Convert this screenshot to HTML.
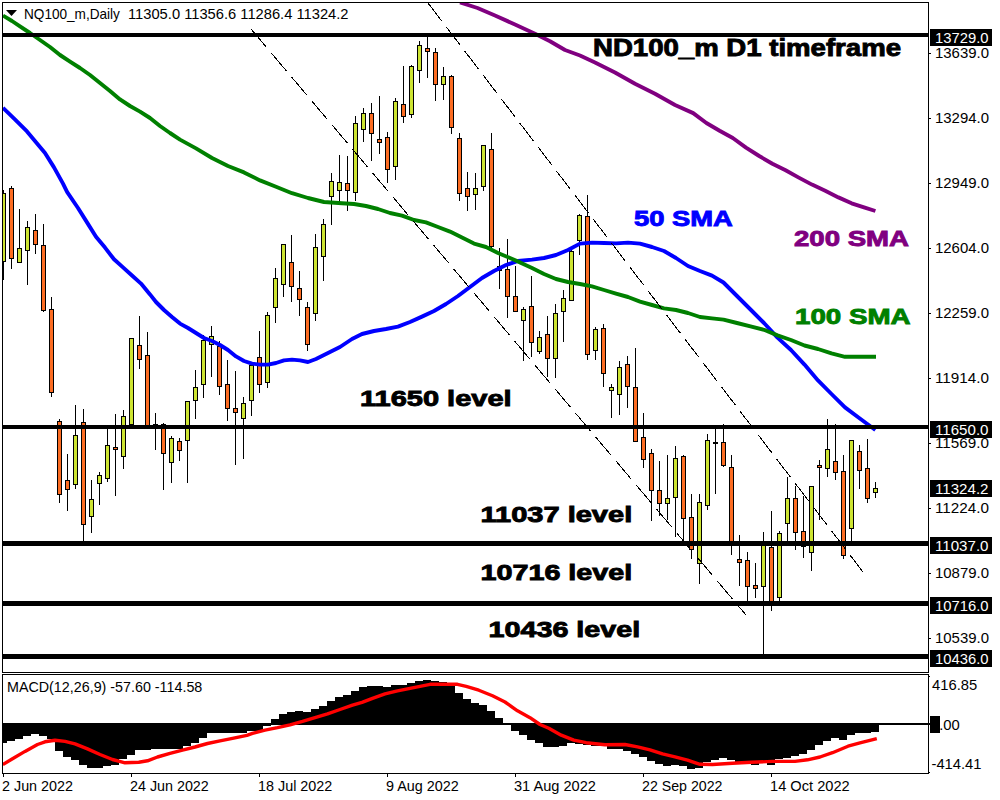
<!DOCTYPE html><html><head><meta charset="utf-8"><style>html,body{margin:0;padding:0;background:#fff;width:1000px;height:800px;overflow:hidden}</style></head><body><svg width="1000" height="800" viewBox="0 0 1000 800" style="display:block;font-family:'Liberation Sans',sans-serif"><rect x="0" y="0" width="1000" height="800" fill="#fff"/><g shape-rendering="crispEdges" fill="#000"><rect x="2" y="2" width="927" height="1"/><rect x="2" y="2" width="1" height="671"/><rect x="928" y="2" width="1" height="671"/><rect x="2" y="672" width="927" height="1"/><rect x="2" y="674" width="927" height="1"/><rect x="2" y="674" width="1" height="100"/><rect x="928" y="674" width="1" height="100"/><rect x="2" y="773" width="927" height="1"/><rect x="928" y="53" width="3" height="1"/><rect x="928" y="118" width="3" height="1"/><rect x="928" y="183" width="3" height="1"/><rect x="928" y="248" width="3" height="1"/><rect x="928" y="313" width="3" height="1"/><rect x="928" y="378" width="3" height="1"/><rect x="928" y="443" width="3" height="1"/><rect x="928" y="508" width="3" height="1"/><rect x="928" y="573" width="3" height="1"/><rect x="928" y="638" width="3" height="1"/><rect x="3" y="773" width="1" height="4"/><rect x="131" y="773" width="1" height="4"/><rect x="259" y="773" width="1" height="4"/><rect x="387" y="773" width="1" height="4"/><rect x="515" y="773" width="1" height="4"/><rect x="643" y="773" width="1" height="4"/><rect x="771" y="773" width="1" height="4"/><rect x="928" y="676" width="2" height="1"/><rect x="928" y="772" width="2" height="1"/></g><defs><clipPath id="cm"><rect x="3" y="3" width="925" height="669"/></clipPath><clipPath id="cd"><rect x="3" y="675" width="925" height="98"/></clipPath></defs><g clip-path="url(#cm)"><g shape-rendering="crispEdges" fill="#000"><rect x="3" y="190" width="1" height="90"/><rect x="1" y="193" width="5" height="69"/><rect x="2" y="194" width="3" height="67" fill="#cde432"/><rect x="11" y="186" width="1" height="83"/><rect x="9" y="188" width="5" height="71"/><rect x="10" y="189" width="3" height="69" fill="#fc6c22"/><rect x="19" y="209" width="1" height="54"/><rect x="17" y="248" width="5" height="15"/><rect x="18" y="249" width="3" height="13" fill="#cde432"/><rect x="27" y="221" width="1" height="64"/><rect x="25" y="227" width="5" height="24"/><rect x="26" y="228" width="3" height="22" fill="#cde432"/><rect x="35" y="214" width="1" height="40"/><rect x="33" y="230" width="5" height="15"/><rect x="34" y="231" width="3" height="13" fill="#fc6c22"/><rect x="43" y="224" width="1" height="88"/><rect x="41" y="245" width="5" height="66"/><rect x="42" y="246" width="3" height="64" fill="#fc6c22"/><rect x="51" y="297" width="1" height="100"/><rect x="49" y="309" width="5" height="84"/><rect x="50" y="310" width="3" height="82" fill="#fc6c22"/><rect x="59" y="419" width="1" height="84"/><rect x="57" y="421" width="5" height="74"/><rect x="58" y="422" width="3" height="72" fill="#fc6c22"/><rect x="67" y="454" width="1" height="57"/><rect x="65" y="480" width="5" height="10"/><rect x="66" y="481" width="3" height="8" fill="#fc6c22"/><rect x="75" y="405" width="1" height="84"/><rect x="73" y="435" width="5" height="50"/><rect x="74" y="436" width="3" height="48" fill="#cde432"/><rect x="83" y="409" width="1" height="132"/><rect x="81" y="422" width="5" height="103"/><rect x="82" y="423" width="3" height="101" fill="#fc6c22"/><rect x="91" y="480" width="1" height="53"/><rect x="89" y="499" width="5" height="18"/><rect x="90" y="500" width="3" height="16" fill="#cde432"/><rect x="99" y="472" width="1" height="33"/><rect x="97" y="475" width="5" height="9"/><rect x="98" y="476" width="3" height="7" fill="#cde432"/><rect x="107" y="429" width="1" height="53"/><rect x="105" y="445" width="5" height="34"/><rect x="106" y="446" width="3" height="32" fill="#cde432"/><rect x="115" y="414" width="1" height="82"/><rect x="113" y="447" width="5" height="3"/><rect x="114" y="448" width="3" height="1" fill="#fc6c22"/><rect x="123" y="410" width="1" height="59"/><rect x="121" y="416" width="5" height="41"/><rect x="122" y="417" width="3" height="39" fill="#cde432"/><rect x="131" y="338" width="1" height="87"/><rect x="129" y="338" width="5" height="87"/><rect x="130" y="339" width="3" height="85" fill="#cde432"/><rect x="139" y="316" width="1" height="53"/><rect x="137" y="345" width="5" height="15"/><rect x="138" y="346" width="3" height="13" fill="#fc6c22"/><rect x="147" y="332" width="1" height="94"/><rect x="145" y="355" width="5" height="71"/><rect x="146" y="356" width="3" height="69" fill="#fc6c22"/><rect x="155" y="413" width="1" height="37"/><rect x="153" y="424" width="5" height="2"/><rect x="163" y="423" width="1" height="67"/><rect x="161" y="424" width="5" height="30"/><rect x="162" y="425" width="3" height="28" fill="#fc6c22"/><rect x="171" y="436" width="1" height="47"/><rect x="169" y="438" width="5" height="25"/><rect x="170" y="439" width="3" height="23" fill="#cde432"/><rect x="179" y="438" width="1" height="23"/><rect x="177" y="441" width="5" height="10"/><rect x="178" y="442" width="3" height="8" fill="#fc6c22"/><rect x="187" y="401" width="1" height="82"/><rect x="185" y="401" width="5" height="40"/><rect x="186" y="402" width="3" height="38" fill="#cde432"/><rect x="195" y="370" width="1" height="49"/><rect x="193" y="387" width="5" height="14"/><rect x="194" y="388" width="3" height="12" fill="#cde432"/><rect x="203" y="335" width="1" height="63"/><rect x="201" y="340" width="5" height="45"/><rect x="202" y="341" width="3" height="43" fill="#cde432"/><rect x="211" y="326" width="1" height="51"/><rect x="209" y="336" width="5" height="9"/><rect x="210" y="337" width="3" height="7" fill="#cde432"/><rect x="219" y="341" width="1" height="54"/><rect x="217" y="346" width="5" height="41"/><rect x="218" y="347" width="3" height="39" fill="#fc6c22"/><rect x="227" y="360" width="1" height="61"/><rect x="225" y="384" width="5" height="25"/><rect x="226" y="385" width="3" height="23" fill="#fc6c22"/><rect x="235" y="371" width="1" height="94"/><rect x="233" y="408" width="5" height="5"/><rect x="234" y="409" width="3" height="3" fill="#fc6c22"/><rect x="243" y="397" width="1" height="62"/><rect x="241" y="403" width="5" height="16"/><rect x="242" y="404" width="3" height="14" fill="#cde432"/><rect x="251" y="362" width="1" height="54"/><rect x="249" y="365" width="5" height="36"/><rect x="250" y="366" width="3" height="34" fill="#cde432"/><rect x="259" y="331" width="1" height="62"/><rect x="257" y="357" width="5" height="28"/><rect x="258" y="358" width="3" height="26" fill="#fc6c22"/><rect x="267" y="312" width="1" height="76"/><rect x="265" y="315" width="5" height="68"/><rect x="266" y="316" width="3" height="66" fill="#cde432"/><rect x="275" y="268" width="1" height="55"/><rect x="273" y="278" width="5" height="30"/><rect x="274" y="279" width="3" height="28" fill="#cde432"/><rect x="283" y="244" width="1" height="53"/><rect x="281" y="244" width="5" height="41"/><rect x="282" y="245" width="3" height="39" fill="#cde432"/><rect x="291" y="235" width="1" height="67"/><rect x="289" y="262" width="5" height="25"/><rect x="290" y="263" width="3" height="23" fill="#fc6c22"/><rect x="299" y="271" width="1" height="45"/><rect x="297" y="288" width="5" height="12"/><rect x="298" y="289" width="3" height="10" fill="#fc6c22"/><rect x="307" y="302" width="1" height="49"/><rect x="305" y="307" width="5" height="38"/><rect x="306" y="308" width="3" height="36" fill="#fc6c22"/><rect x="315" y="234" width="1" height="87"/><rect x="313" y="247" width="5" height="67"/><rect x="314" y="248" width="3" height="65" fill="#cde432"/><rect x="323" y="219" width="1" height="62"/><rect x="321" y="224" width="5" height="33"/><rect x="322" y="225" width="3" height="31" fill="#cde432"/><rect x="331" y="173" width="1" height="52"/><rect x="329" y="181" width="5" height="16"/><rect x="330" y="182" width="3" height="14" fill="#cde432"/><rect x="339" y="155" width="1" height="47"/><rect x="337" y="182" width="5" height="9"/><rect x="338" y="183" width="3" height="7" fill="#cde432"/><rect x="347" y="156" width="1" height="55"/><rect x="345" y="183" width="5" height="8"/><rect x="346" y="184" width="3" height="6" fill="#fc6c22"/><rect x="355" y="116" width="1" height="85"/><rect x="353" y="123" width="5" height="70"/><rect x="354" y="124" width="3" height="68" fill="#cde432"/><rect x="363" y="108" width="1" height="34"/><rect x="361" y="113" width="5" height="17"/><rect x="362" y="114" width="3" height="15" fill="#cde432"/><rect x="371" y="103" width="1" height="58"/><rect x="369" y="113" width="5" height="21"/><rect x="370" y="114" width="3" height="19" fill="#fc6c22"/><rect x="379" y="96" width="1" height="58"/><rect x="377" y="139" width="5" height="4"/><rect x="378" y="140" width="3" height="2" fill="#fc6c22"/><rect x="387" y="132" width="1" height="51"/><rect x="385" y="137" width="5" height="33"/><rect x="386" y="138" width="3" height="31" fill="#fc6c22"/><rect x="395" y="98" width="1" height="82"/><rect x="393" y="101" width="5" height="66"/><rect x="394" y="102" width="3" height="64" fill="#cde432"/><rect x="403" y="66" width="1" height="57"/><rect x="401" y="104" width="5" height="13"/><rect x="402" y="105" width="3" height="11" fill="#fc6c22"/><rect x="411" y="65" width="1" height="53"/><rect x="409" y="66" width="5" height="49"/><rect x="410" y="67" width="3" height="47" fill="#cde432"/><rect x="419" y="41" width="1" height="42"/><rect x="417" y="45" width="5" height="26"/><rect x="418" y="46" width="3" height="24" fill="#cde432"/><rect x="427" y="36" width="1" height="42"/><rect x="425" y="48" width="5" height="4"/><rect x="426" y="49" width="3" height="2" fill="#fc6c22"/><rect x="435" y="48" width="1" height="53"/><rect x="433" y="52" width="5" height="33"/><rect x="434" y="53" width="3" height="31" fill="#fc6c22"/><rect x="443" y="67" width="1" height="33"/><rect x="441" y="76" width="5" height="9"/><rect x="442" y="77" width="3" height="7" fill="#cde432"/><rect x="451" y="75" width="1" height="59"/><rect x="449" y="76" width="5" height="52"/><rect x="450" y="77" width="3" height="50" fill="#fc6c22"/><rect x="459" y="133" width="1" height="68"/><rect x="457" y="138" width="5" height="56"/><rect x="458" y="139" width="3" height="54" fill="#fc6c22"/><rect x="467" y="172" width="1" height="39"/><rect x="465" y="188" width="5" height="9"/><rect x="466" y="189" width="3" height="7" fill="#fc6c22"/><rect x="475" y="173" width="1" height="37"/><rect x="473" y="188" width="5" height="7"/><rect x="474" y="189" width="3" height="5" fill="#cde432"/><rect x="483" y="145" width="1" height="46"/><rect x="481" y="145" width="5" height="42"/><rect x="482" y="146" width="3" height="40" fill="#cde432"/><rect x="491" y="133" width="1" height="116"/><rect x="489" y="149" width="5" height="98"/><rect x="490" y="150" width="3" height="96" fill="#fc6c22"/><rect x="499" y="248" width="1" height="41"/><rect x="497" y="266" width="5" height="5"/><rect x="498" y="267" width="3" height="3" fill="#fc6c22"/><rect x="507" y="239" width="1" height="79"/><rect x="505" y="269" width="5" height="28"/><rect x="506" y="270" width="3" height="26" fill="#fc6c22"/><rect x="515" y="266" width="1" height="46"/><rect x="513" y="296" width="5" height="16"/><rect x="514" y="297" width="3" height="14" fill="#fc6c22"/><rect x="523" y="307" width="1" height="54"/><rect x="521" y="309" width="5" height="12"/><rect x="522" y="310" width="3" height="10" fill="#cde432"/><rect x="531" y="276" width="1" height="81"/><rect x="529" y="306" width="5" height="37"/><rect x="530" y="307" width="3" height="35" fill="#fc6c22"/><rect x="539" y="331" width="1" height="23"/><rect x="537" y="337" width="5" height="15"/><rect x="538" y="338" width="3" height="13" fill="#cde432"/><rect x="547" y="316" width="1" height="61"/><rect x="545" y="334" width="5" height="25"/><rect x="546" y="335" width="3" height="23" fill="#fc6c22"/><rect x="555" y="304" width="1" height="74"/><rect x="553" y="313" width="5" height="46"/><rect x="554" y="314" width="3" height="44" fill="#cde432"/><rect x="563" y="290" width="1" height="52"/><rect x="561" y="298" width="5" height="14"/><rect x="562" y="299" width="3" height="12" fill="#cde432"/><rect x="571" y="247" width="1" height="54"/><rect x="569" y="251" width="5" height="50"/><rect x="570" y="252" width="3" height="48" fill="#cde432"/><rect x="579" y="214" width="1" height="41"/><rect x="577" y="215" width="5" height="26"/><rect x="578" y="216" width="3" height="24" fill="#cde432"/><rect x="587" y="195" width="1" height="165"/><rect x="585" y="216" width="5" height="139"/><rect x="586" y="217" width="3" height="137" fill="#fc6c22"/><rect x="595" y="327" width="1" height="33"/><rect x="593" y="329" width="5" height="22"/><rect x="594" y="330" width="3" height="20" fill="#cde432"/><rect x="603" y="324" width="1" height="63"/><rect x="601" y="328" width="5" height="46"/><rect x="602" y="329" width="3" height="44" fill="#fc6c22"/><rect x="611" y="384" width="1" height="34"/><rect x="609" y="387" width="5" height="4"/><rect x="610" y="388" width="3" height="2" fill="#cde432"/><rect x="619" y="361" width="1" height="54"/><rect x="617" y="367" width="5" height="28"/><rect x="618" y="368" width="3" height="26" fill="#cde432"/><rect x="627" y="356" width="1" height="52"/><rect x="625" y="364" width="5" height="23"/><rect x="626" y="365" width="3" height="21" fill="#fc6c22"/><rect x="635" y="348" width="1" height="94"/><rect x="633" y="387" width="5" height="55"/><rect x="634" y="388" width="3" height="53" fill="#fc6c22"/><rect x="643" y="413" width="1" height="55"/><rect x="641" y="437" width="5" height="23"/><rect x="642" y="438" width="3" height="21" fill="#fc6c22"/><rect x="651" y="449" width="1" height="72"/><rect x="649" y="453" width="5" height="38"/><rect x="650" y="454" width="3" height="36" fill="#fc6c22"/><rect x="659" y="461" width="1" height="55"/><rect x="657" y="490" width="5" height="14"/><rect x="658" y="491" width="3" height="12" fill="#fc6c22"/><rect x="667" y="455" width="1" height="65"/><rect x="665" y="498" width="5" height="6"/><rect x="666" y="499" width="3" height="4" fill="#cde432"/><rect x="675" y="446" width="1" height="91"/><rect x="673" y="458" width="5" height="40"/><rect x="674" y="459" width="3" height="38" fill="#cde432"/><rect x="683" y="455" width="1" height="87"/><rect x="681" y="456" width="5" height="63"/><rect x="682" y="457" width="3" height="61" fill="#fc6c22"/><rect x="691" y="494" width="1" height="65"/><rect x="689" y="517" width="5" height="33"/><rect x="690" y="518" width="3" height="31" fill="#fc6c22"/><rect x="699" y="494" width="1" height="90"/><rect x="697" y="502" width="5" height="62"/><rect x="698" y="503" width="3" height="60" fill="#cde432"/><rect x="707" y="434" width="1" height="76"/><rect x="705" y="440" width="5" height="66"/><rect x="706" y="441" width="3" height="64" fill="#cde432"/><rect x="715" y="427" width="1" height="67"/><rect x="713" y="442" width="5" height="2"/><rect x="723" y="424" width="1" height="43"/><rect x="721" y="442" width="5" height="24"/><rect x="722" y="443" width="3" height="22" fill="#fc6c22"/><rect x="731" y="455" width="1" height="100"/><rect x="729" y="467" width="5" height="76"/><rect x="730" y="468" width="3" height="74" fill="#fc6c22"/><rect x="739" y="535" width="1" height="51"/><rect x="737" y="559" width="5" height="4"/><rect x="738" y="560" width="3" height="2" fill="#fc6c22"/><rect x="747" y="552" width="1" height="51"/><rect x="745" y="560" width="5" height="27"/><rect x="746" y="561" width="3" height="25" fill="#fc6c22"/><rect x="755" y="563" width="1" height="35"/><rect x="753" y="585" width="5" height="4"/><rect x="754" y="586" width="3" height="2" fill="#fc6c22"/><rect x="763" y="532" width="1" height="123"/><rect x="761" y="544" width="5" height="43"/><rect x="762" y="545" width="3" height="41" fill="#cde432"/><rect x="771" y="511" width="1" height="100"/><rect x="769" y="547" width="5" height="55"/><rect x="770" y="548" width="3" height="53" fill="#fc6c22"/><rect x="779" y="531" width="1" height="71"/><rect x="777" y="533" width="5" height="65"/><rect x="778" y="534" width="3" height="63" fill="#cde432"/><rect x="787" y="477" width="1" height="66"/><rect x="785" y="498" width="5" height="26"/><rect x="786" y="499" width="3" height="24" fill="#cde432"/><rect x="795" y="486" width="1" height="64"/><rect x="793" y="498" width="5" height="35"/><rect x="794" y="499" width="3" height="33" fill="#fc6c22"/><rect x="803" y="496" width="1" height="62"/><rect x="801" y="531" width="5" height="16"/><rect x="802" y="532" width="3" height="14" fill="#fc6c22"/><rect x="811" y="486" width="1" height="85"/><rect x="809" y="486" width="5" height="67"/><rect x="810" y="487" width="3" height="65" fill="#cde432"/><rect x="819" y="460" width="1" height="60"/><rect x="817" y="465" width="5" height="3"/><rect x="818" y="466" width="3" height="1" fill="#fc6c22"/><rect x="827" y="419" width="1" height="58"/><rect x="825" y="449" width="5" height="20"/><rect x="826" y="450" width="3" height="18" fill="#cde432"/><rect x="835" y="424" width="1" height="56"/><rect x="833" y="461" width="5" height="12"/><rect x="834" y="462" width="3" height="10" fill="#fc6c22"/><rect x="843" y="455" width="1" height="104"/><rect x="841" y="471" width="5" height="85"/><rect x="842" y="472" width="3" height="83" fill="#fc6c22"/><rect x="851" y="440" width="1" height="103"/><rect x="849" y="440" width="5" height="89"/><rect x="850" y="441" width="3" height="87" fill="#cde432"/><rect x="859" y="445" width="1" height="44"/><rect x="857" y="451" width="5" height="20"/><rect x="858" y="452" width="3" height="18" fill="#fc6c22"/><rect x="867" y="439" width="1" height="64"/><rect x="865" y="468" width="5" height="31"/><rect x="866" y="469" width="3" height="29" fill="#fc6c22"/><rect x="875" y="482" width="1" height="16"/><rect x="873" y="488" width="5" height="5"/><rect x="874" y="489" width="3" height="3" fill="#cde432"/></g><polyline points="3.0,107.8 14.4,118.8 27.0,131.4 36.0,142.2 45.0,153.0 54.0,167.4 63.0,183.6 67.2,192.2 78.0,208.0 87.0,222.4 96.0,236.8 105.0,247.6 114.0,259.3 123.0,267.4 132.0,275.5 141.0,283.6 150.0,294.4 156.0,302.0 164.0,310.0 172.0,317.0 180.0,323.6 188.0,328.0 196.0,333.0 204.0,338.0 212.0,341.0 220.0,345.0 228.0,350.0 236.0,356.4 244.0,361.0 252.0,363.6 260.0,364.6 268.0,364.6 276.0,363.0 284.0,360.4 292.0,359.6 300.0,360.4 308.0,362.0 316.0,359.0 324.0,355.0 332.0,351.0 340.0,347.0 352.0,339.0 362.0,334.0 374.0,331.0 386.0,329.0 398.0,326.6 410.0,322.0 422.0,316.6 434.0,311.0 446.0,304.0 458.0,296.0 470.0,287.0 482.0,278.0 494.0,271.0 506.0,265.0 518.0,261.0 532.0,259.6 544.0,258.0 556.0,255.0 568.0,250.0 580.0,243.6 592.0,242.6 604.0,243.0 616.0,243.4 628.0,242.6 640.0,243.6 652.0,247.0 664.0,251.0 676.0,258.0 688.0,266.0 700.0,271.0 712.0,275.6 723.5,282.5 737.0,296.0 750.5,309.5 764.0,323.0 777.5,337.6 791.0,350.0 804.5,364.6 818.0,380.4 831.5,394.0 845.0,407.4 858.5,417.5 875.4,430.0" fill="none" stroke="#0000ff" stroke-width="3.9" stroke-linejoin="round"/><polyline points="3.0,15.6 12.0,21.0 20.0,26.4 30.0,33.0 40.0,40.0 50.0,47.0 60.0,55.0 70.0,61.6 80.0,68.0 90.0,75.0 100.0,83.0 110.0,91.0 120.0,99.4 130.0,106.0 140.0,111.6 150.0,118.0 160.0,126.0 170.0,133.0 180.0,139.6 196.0,148.4 212.0,158.0 228.0,166.0 244.0,172.4 260.0,180.4 276.0,186.8 292.0,193.2 308.0,198.0 324.0,202.0 342.0,203.3 354.0,204.0 366.0,206.0 378.0,209.0 390.0,213.0 402.0,215.6 414.0,220.0 426.0,222.4 438.0,227.0 450.0,231.6 462.0,237.6 474.0,243.6 486.0,247.0 498.0,253.0 510.0,258.0 520.0,262.4 532.0,268.0 544.0,274.0 556.0,279.0 568.0,282.0 580.0,284.0 592.0,286.4 604.0,290.0 616.0,293.6 628.0,297.0 640.0,301.6 652.0,305.0 664.0,308.4 676.0,310.0 688.0,313.0 700.0,317.0 712.0,318.4 723.5,319.6 737.0,323.0 750.5,326.4 764.0,329.8 777.5,335.4 791.0,340.0 804.5,345.5 818.0,349.0 831.5,353.4 845.0,356.8 876.0,356.8" fill="none" stroke="#008000" stroke-width="3.9" stroke-linejoin="round"/><polyline points="460.0,2.5 477.5,8.0 495.0,15.5 515.0,24.5 535.0,33.8 550.0,41.2 565.0,50.0 580.0,55.5 595.0,62.5 615.0,72.5 635.0,83.8 655.0,93.8 675.0,105.0 693.2,113.1 706.4,123.0 719.6,130.7 732.8,138.0 746.0,147.6 759.2,156.0 772.4,163.7 785.6,170.3 798.8,177.6 812.0,184.6 825.2,190.8 838.4,197.4 851.6,203.3 864.8,207.7 875.4,211.0" fill="none" stroke="#800080" stroke-width="3.9" stroke-linejoin="round"/><line x1="251" y1="29" x2="746" y2="615" stroke="#000" stroke-width="1" shape-rendering="crispEdges" stroke-dasharray="23.56 7.85"/><line x1="428" y1="3" x2="863" y2="572" stroke="#000" stroke-width="1" shape-rendering="crispEdges" stroke-dasharray="22.66 7.55"/><g shape-rendering="crispEdges" fill="#000"><rect x="3" y="33" width="925" height="4"/><rect x="3" y="425" width="925" height="4"/><rect x="3" y="541" width="925" height="5"/><rect x="3" y="601" width="925" height="5"/><rect x="3" y="654" width="925" height="5"/></g></g><g clip-path="url(#cd)"><rect x="3" y="723" width="925" height="2" fill="#000" shape-rendering="crispEdges"/><g shape-rendering="crispEdges" fill="#000"><rect x="3" y="723" width="4" height="20"/><rect x="7" y="723" width="8" height="18"/><rect x="15" y="723" width="8" height="16"/><rect x="23" y="723" width="8" height="13"/><rect x="31" y="723" width="8" height="11"/><rect x="39" y="723" width="8" height="13"/><rect x="47" y="723" width="8" height="16"/><rect x="55" y="723" width="8" height="28"/><rect x="63" y="723" width="8" height="34"/><rect x="71" y="723" width="8" height="37"/><rect x="79" y="723" width="8" height="42"/><rect x="87" y="723" width="8" height="45"/><rect x="95" y="723" width="8" height="45"/><rect x="103" y="723" width="8" height="43"/><rect x="111" y="723" width="8" height="42"/><rect x="119" y="723" width="8" height="36"/><rect x="127" y="723" width="8" height="32"/><rect x="135" y="723" width="8" height="27"/><rect x="143" y="723" width="8" height="27"/><rect x="151" y="723" width="8" height="26"/><rect x="159" y="723" width="8" height="26"/><rect x="167" y="723" width="8" height="26"/><rect x="175" y="723" width="8" height="26"/><rect x="183" y="723" width="8" height="23"/><rect x="191" y="723" width="8" height="20"/><rect x="199" y="723" width="8" height="15"/><rect x="207" y="723" width="8" height="10"/><rect x="215" y="723" width="8" height="10"/><rect x="223" y="723" width="8" height="10"/><rect x="231" y="723" width="8" height="10"/><rect x="239" y="723" width="8" height="10"/><rect x="247" y="723" width="8" height="8"/><rect x="255" y="723" width="8" height="8"/><rect x="263" y="723" width="8" height="3"/><rect x="511" y="723" width="8" height="8"/><rect x="519" y="723" width="8" height="12"/><rect x="527" y="723" width="8" height="17"/><rect x="535" y="723" width="8" height="20"/><rect x="543" y="723" width="8" height="24"/><rect x="551" y="723" width="8" height="24"/><rect x="559" y="723" width="8" height="23"/><rect x="567" y="723" width="8" height="20"/><rect x="575" y="723" width="8" height="21"/><rect x="583" y="723" width="8" height="22"/><rect x="591" y="723" width="8" height="23"/><rect x="599" y="723" width="8" height="23"/><rect x="607" y="723" width="8" height="26"/><rect x="615" y="723" width="8" height="26"/><rect x="623" y="723" width="8" height="28"/><rect x="631" y="723" width="8" height="31"/><rect x="639" y="723" width="8" height="34"/><rect x="647" y="723" width="8" height="38"/><rect x="655" y="723" width="8" height="41"/><rect x="663" y="723" width="8" height="43"/><rect x="671" y="723" width="8" height="42"/><rect x="679" y="723" width="8" height="43"/><rect x="687" y="723" width="8" height="46"/><rect x="695" y="723" width="8" height="45"/><rect x="703" y="723" width="8" height="39"/><rect x="711" y="723" width="8" height="37"/><rect x="719" y="723" width="8" height="35"/><rect x="727" y="723" width="8" height="37"/><rect x="735" y="723" width="8" height="39"/><rect x="743" y="723" width="8" height="40"/><rect x="751" y="723" width="8" height="42"/><rect x="759" y="723" width="8" height="40"/><rect x="767" y="723" width="8" height="42"/><rect x="775" y="723" width="8" height="36"/><rect x="783" y="723" width="8" height="35"/><rect x="791" y="723" width="8" height="33"/><rect x="799" y="723" width="8" height="31"/><rect x="807" y="723" width="8" height="27"/><rect x="815" y="723" width="8" height="22"/><rect x="823" y="723" width="8" height="18"/><rect x="831" y="723" width="8" height="15"/><rect x="839" y="723" width="8" height="17"/><rect x="847" y="723" width="8" height="12"/><rect x="855" y="723" width="8" height="10"/><rect x="863" y="723" width="8" height="10"/><rect x="871" y="723" width="8" height="9"/><rect x="271" y="719" width="8" height="6"/><rect x="279" y="714" width="8" height="11"/><rect x="287" y="712" width="8" height="13"/><rect x="295" y="711" width="8" height="14"/><rect x="303" y="712" width="8" height="13"/><rect x="311" y="709" width="8" height="16"/><rect x="319" y="706" width="8" height="19"/><rect x="327" y="701" width="8" height="24"/><rect x="335" y="697" width="8" height="28"/><rect x="343" y="695" width="8" height="30"/><rect x="351" y="691" width="8" height="34"/><rect x="359" y="687" width="8" height="38"/><rect x="367" y="686" width="8" height="39"/><rect x="375" y="686" width="8" height="39"/><rect x="383" y="687" width="8" height="38"/><rect x="391" y="685" width="8" height="40"/><rect x="399" y="685" width="8" height="40"/><rect x="407" y="683" width="8" height="42"/><rect x="415" y="681" width="8" height="44"/><rect x="423" y="680" width="8" height="45"/><rect x="431" y="681" width="8" height="44"/><rect x="439" y="682" width="8" height="43"/><rect x="447" y="683" width="8" height="42"/><rect x="455" y="693" width="8" height="32"/><rect x="463" y="699" width="8" height="26"/><rect x="471" y="703" width="8" height="22"/><rect x="479" y="705" width="8" height="20"/><rect x="487" y="711" width="8" height="14"/><rect x="495" y="718" width="8" height="7"/></g><polyline points="2.8,764.5 12.5,758.8 25.0,751.4 37.5,744.5 45.0,741.8 55.0,740.2 65.0,741.4 75.0,743.9 87.5,748.9 100.0,754.5 112.5,759.5 125.0,762.8 138.8,762.3 147.5,760.8 157.5,757.0 170.0,753.3 182.5,750.2 195.0,747.0 207.5,743.5 220.0,740.8 232.5,738.3 246.9,735.3 252.5,733.3 265.0,730.2 277.5,727.7 290.0,724.8 302.5,721.4 315.0,717.7 327.5,713.9 340.0,709.5 352.5,705.2 362.0,702.3 372.5,698.3 385.0,693.9 397.5,690.8 410.0,688.3 422.5,685.8 430.0,684.3 441.2,684.3 457.5,684.3 466.2,686.4 478.8,690.2 492.5,695.8 505.0,702.0 517.5,710.8 530.0,717.7 540.0,724.5 548.8,728.3 561.2,735.2 573.8,740.2 586.2,742.7 605.0,744.8 625.0,744.5 637.5,746.8 650.0,749.8 662.5,753.9 675.0,756.8 687.5,760.2 700.0,764.3 712.5,764.5 732.5,763.3 751.2,762.3 772.5,761.4 795.0,761.4 807.5,759.8 820.0,757.0 832.5,752.7 848.0,746.2 860.0,742.9 876.8,738.7" fill="none" stroke="#ff0000" stroke-width="3.4" stroke-linejoin="round"/></g><rect x="928" y="723" width="3" height="2" fill="#000"/><path d="M6 10 L17 10 L11.5 16 Z" fill="#000"/><text x="24" y="19" font-size="14.5" fill="#000" font-weight="normal" text-anchor="start" textLength="95.9" lengthAdjust="spacingAndGlyphs" >NQ100_m,Daily</text><text x="128" y="19" font-size="14.5" fill="#000" font-weight="normal" text-anchor="start" textLength="220.5" lengthAdjust="spacingAndGlyphs" >11305.0 11356.6 11286.4 11324.2</text><text x="7" y="692" font-size="14.5" fill="#000" font-weight="normal" text-anchor="start" textLength="195.3" lengthAdjust="spacingAndGlyphs" >MACD(12,26,9) -57.60 -114.58</text><text x="935" y="58" font-size="14.5" fill="#000" font-weight="normal" text-anchor="start" textLength="54" lengthAdjust="spacingAndGlyphs" >13639.0</text><text x="935" y="123" font-size="14.5" fill="#000" font-weight="normal" text-anchor="start" textLength="54" lengthAdjust="spacingAndGlyphs" >13294.0</text><text x="935" y="188" font-size="14.5" fill="#000" font-weight="normal" text-anchor="start" textLength="54" lengthAdjust="spacingAndGlyphs" >12949.0</text><text x="935" y="253" font-size="14.5" fill="#000" font-weight="normal" text-anchor="start" textLength="54" lengthAdjust="spacingAndGlyphs" >12604.0</text><text x="935" y="318" font-size="14.5" fill="#000" font-weight="normal" text-anchor="start" textLength="54" lengthAdjust="spacingAndGlyphs" >12259.0</text><text x="935" y="383" font-size="14.5" fill="#000" font-weight="normal" text-anchor="start" textLength="54" lengthAdjust="spacingAndGlyphs" >11914.0</text><text x="935" y="448" font-size="14.5" fill="#000" font-weight="normal" text-anchor="start" textLength="54" lengthAdjust="spacingAndGlyphs" >11569.0</text><text x="935" y="513" font-size="14.5" fill="#000" font-weight="normal" text-anchor="start" textLength="54" lengthAdjust="spacingAndGlyphs" >11224.0</text><text x="935" y="578" font-size="14.5" fill="#000" font-weight="normal" text-anchor="start" textLength="54" lengthAdjust="spacingAndGlyphs" >10879.0</text><text x="935" y="643" font-size="14.5" fill="#000" font-weight="normal" text-anchor="start" textLength="54" lengthAdjust="spacingAndGlyphs" >10539.0</text><rect x="930" y="29" width="62" height="17" fill="#000"/><text x="935" y="43" font-size="14.5" fill="#fff" font-weight="normal" text-anchor="start" textLength="53.5" lengthAdjust="spacingAndGlyphs" >13729.0</text><rect x="930" y="421" width="62" height="17" fill="#000"/><text x="935" y="435" font-size="14.5" fill="#fff" font-weight="normal" text-anchor="start" textLength="53.5" lengthAdjust="spacingAndGlyphs" >11650.0</text><rect x="930" y="480" width="62" height="17" fill="#000"/><text x="935" y="494" font-size="14.5" fill="#fff" font-weight="normal" text-anchor="start" textLength="53.5" lengthAdjust="spacingAndGlyphs" >11324.2</text><rect x="930" y="537" width="62" height="17" fill="#000"/><text x="935" y="551" font-size="14.5" fill="#fff" font-weight="normal" text-anchor="start" textLength="53.5" lengthAdjust="spacingAndGlyphs" >11037.0</text><rect x="930" y="597" width="62" height="17" fill="#000"/><text x="935" y="611" font-size="14.5" fill="#fff" font-weight="normal" text-anchor="start" textLength="53.5" lengthAdjust="spacingAndGlyphs" >10716.0</text><rect x="930" y="650" width="62" height="17" fill="#000"/><text x="935" y="664" font-size="14.5" fill="#fff" font-weight="normal" text-anchor="start" textLength="53.5" lengthAdjust="spacingAndGlyphs" >10436.0</text><text x="932" y="690" font-size="14.5" fill="#000" font-weight="normal" text-anchor="start" textLength="45.2" lengthAdjust="spacingAndGlyphs" >416.85</text><rect x="930" y="716" width="10" height="17" fill="#000"/><text x="931" y="730" font-size="14.5" fill="#000" font-weight="normal" text-anchor="start" textLength="28.8" lengthAdjust="spacingAndGlyphs" >0.00</text><text x="931.5" y="769" font-size="14.5" fill="#000" font-weight="normal" text-anchor="start" textLength="50" lengthAdjust="spacingAndGlyphs" >-414.41</text><text x="2" y="791" font-size="14.5" fill="#000" font-weight="normal" text-anchor="start" textLength="71" lengthAdjust="spacingAndGlyphs" >2 Jun 2022</text><text x="130" y="791" font-size="14.5" fill="#000" font-weight="normal" text-anchor="start" textLength="78.8" lengthAdjust="spacingAndGlyphs" >24 Jun 2022</text><text x="258" y="791" font-size="14.5" fill="#000" font-weight="normal" text-anchor="start" textLength="74.3" lengthAdjust="spacingAndGlyphs" >18 Jul 2022</text><text x="386" y="791" font-size="14.5" fill="#000" font-weight="normal" text-anchor="start" textLength="72.8" lengthAdjust="spacingAndGlyphs" >9 Aug 2022</text><text x="514" y="791" font-size="14.5" fill="#000" font-weight="normal" text-anchor="start" textLength="81.9" lengthAdjust="spacingAndGlyphs" >31 Aug 2022</text><text x="642" y="791" font-size="14.5" fill="#000" font-weight="normal" text-anchor="start" textLength="80.5" lengthAdjust="spacingAndGlyphs" >22 Sep 2022</text><text x="770" y="791" font-size="14.5" fill="#000" font-weight="normal" text-anchor="start" textLength="79.7" lengthAdjust="spacingAndGlyphs" >14 Oct 2022</text><text x="593" y="56" font-size="23.5" fill="#000" font-weight="bold" text-anchor="start" textLength="308" lengthAdjust="spacingAndGlyphs" stroke="#000" stroke-width="0.9" >ND100_m D1 timeframe</text><text x="634" y="225.8" font-size="22.5" fill="#0000ff" font-weight="bold" text-anchor="start" textLength="98.8" lengthAdjust="spacingAndGlyphs" stroke="#0000ff" stroke-width="0.9" >50 SMA</text><text x="794" y="245.5" font-size="22.5" fill="#800080" font-weight="bold" text-anchor="start" textLength="115" lengthAdjust="spacingAndGlyphs" stroke="#800080" stroke-width="0.9" >200 SMA</text><text x="795" y="323.5" font-size="22.5" fill="#008000" font-weight="bold" text-anchor="start" textLength="115.5" lengthAdjust="spacingAndGlyphs" stroke="#008000" stroke-width="0.9" >100 SMA</text><text x="360" y="405.5" font-size="22.5" fill="#000" font-weight="bold" text-anchor="start" textLength="151.6" lengthAdjust="spacingAndGlyphs" stroke="#000" stroke-width="0.9" >11650 level</text><text x="480.5" y="521.5" font-size="22.5" fill="#000" font-weight="bold" text-anchor="start" textLength="151.7" lengthAdjust="spacingAndGlyphs" stroke="#000" stroke-width="0.9" >11037 level</text><text x="480.5" y="580" font-size="22.5" fill="#000" font-weight="bold" text-anchor="start" textLength="151.7" lengthAdjust="spacingAndGlyphs" stroke="#000" stroke-width="0.9" >10716 level</text><text x="488.5" y="636.5" font-size="22.5" fill="#000" font-weight="bold" text-anchor="start" textLength="151.7" lengthAdjust="spacingAndGlyphs" stroke="#000" stroke-width="0.9" >10436 level</text></svg></body></html>
